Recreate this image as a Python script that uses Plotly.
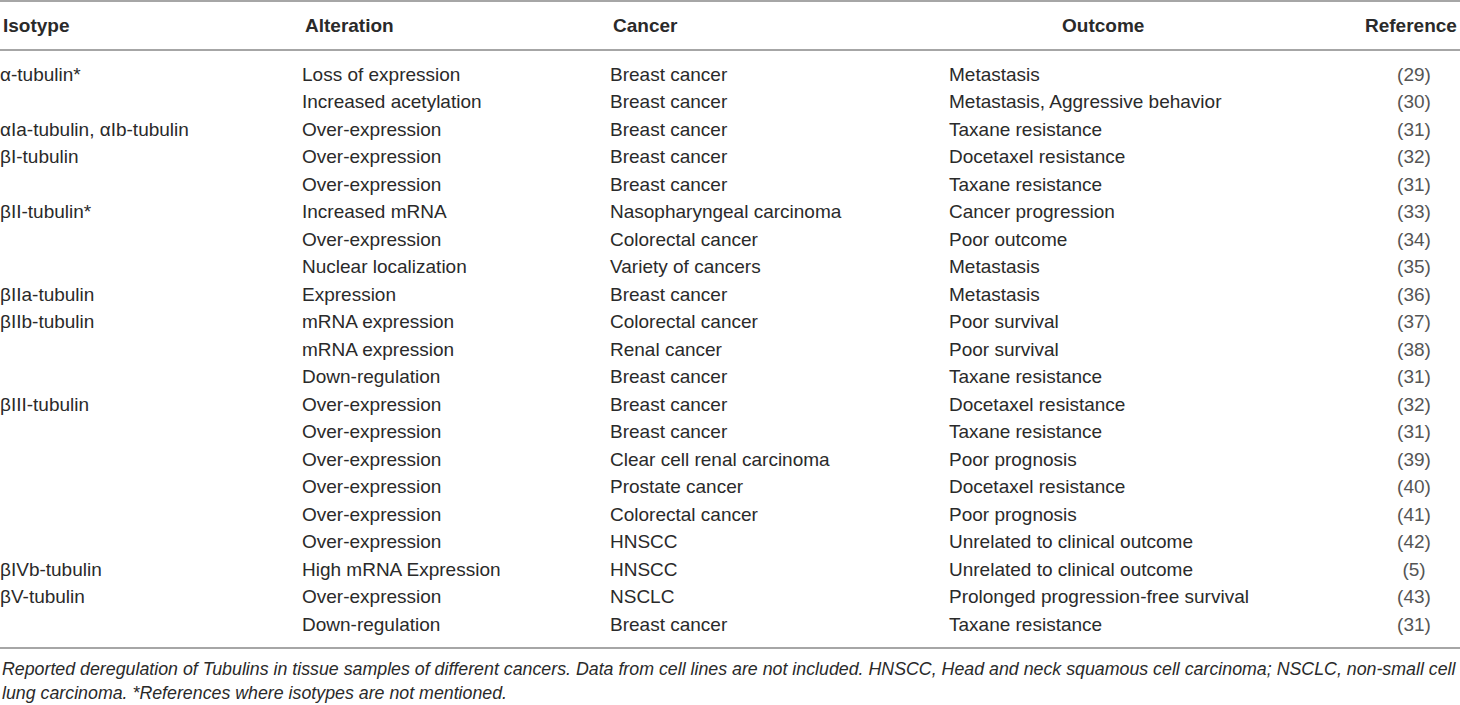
import plotly.graph_objects as go

# table contents, one list per column
headers = ["Isotype", "Alteration", "Cancer", "Outcome", "Reference"]

isotype = [
    "α-tubulin*", "", "αIa-tubulin, αIb-tubulin", "βI-tubulin", "",
    "βII-tubulin*", "", "", "βIIa-tubulin", "βIIb-tubulin", "", "",
    "βIII-tubulin", "", "", "", "", "", "βIVb-tubulin", "βV-tubulin", "",
]
alteration = [
    "Loss of expression", "Increased acetylation", "Over-expression",
    "Over-expression", "Over-expression", "Increased mRNA", "Over-expression",
    "Nuclear localization", "Expression", "mRNA expression", "mRNA expression",
    "Down-regulation", "Over-expression", "Over-expression", "Over-expression",
    "Over-expression", "Over-expression", "Over-expression",
    "High mRNA Expression", "Over-expression", "Down-regulation",
]
cancer = [
    "Breast cancer", "Breast cancer", "Breast cancer", "Breast cancer",
    "Breast cancer", "Nasopharyngeal carcinoma", "Colorectal cancer",
    "Variety of cancers", "Breast cancer", "Colorectal cancer", "Renal cancer",
    "Breast cancer", "Breast cancer", "Breast cancer",
    "Clear cell renal carcinoma", "Prostate cancer", "Colorectal cancer",
    "HNSCC", "HNSCC", "NSCLC", "Breast cancer",
]
outcome = [
    "Metastasis", "Metastasis, Aggressive behavior", "Taxane resistance",
    "Docetaxel resistance", "Taxane resistance", "Cancer progression",
    "Poor outcome", "Metastasis", "Metastasis", "Poor survival",
    "Poor survival", "Taxane resistance", "Docetaxel resistance",
    "Taxane resistance", "Poor prognosis", "Docetaxel resistance",
    "Poor prognosis", "Unrelated to clinical outcome",
    "Unrelated to clinical outcome", "Prolonged progression-free survival",
    "Taxane resistance",
]
reference = [
    "(29)", "(30)", "(31)", "(32)", "(31)", "(33)", "(34)", "(35)", "(36)",
    "(37)", "(38)", "(31)", "(32)", "(31)", "(39)", "(40)", "(41)", "(42)",
    "(5)", "(43)", "(31)",
]

footnote = [
    "Reported deregulation of Tubulins in tissue samples of different cancers. "
    "Data from cell lines are not included. HNSCC, Head and neck squamous cell "
    "carcinoma; NSCLC, non-small cell",
    "lung carcinoma. *References where isotypes are not mentioned.",
]

FONT = "Liberation Sans, Arial, sans-serif"
INK = "#2a2a2a"
REF_INK = "#555555"
RULE = "#a6a6a6"

rows = list(range(len(isotype)))

# column placement: (values, x, text position, header x, header anchor, colour)
columns = [
    (isotype, 0, "middle right", 1, "left", INK),
    (alteration, 302, "middle right", 303, "left", INK),
    (cancer, 610, "middle right", 611, "left", INK),
    (outcome, 949, "middle right", 1103, "center", INK),
    (reference, 1414, "middle center", 1459, "right", REF_INK),
]

fig = go.Figure()
for values, x, pos, _, _, col in columns:
    fig.add_trace(go.Scatter(
        x=[x] * len(values),
        y=rows,
        mode="text",
        text=values,
        textposition=pos,
        textfont=dict(family=FONT, size=19, color=col),
        hoverinfo="skip",
        showlegend=False,
    ))

# header labels
for name, (_, _, _, hx, anchor, _) in zip(headers, columns):
    fig.add_annotation(
        x=hx, y=-1.82, xref="x", yref="y", text=f"<b>{name}</b>",
        showarrow=False, xanchor=anchor, yanchor="middle",
        font=dict(family=FONT, size=19, color=INK),
    )

# horizontal rules: top, under header, bottom
for yy in [-2.73, -0.95, 20.8]:
    fig.add_shape(type="line", xref="paper", yref="y", x0=0, x1=1,
                  y0=yy, y1=yy, line=dict(color=RULE, width=2))

# footnote lines
for i, line in enumerate(footnote):
    fig.add_annotation(
        x=0, y=21.55 + i * 0.87, xref="x", yref="y", text=f"<i>{line}</i>",
        showarrow=False, xanchor="left", yanchor="middle",
        font=dict(family=FONT, size=17.8, color=INK),
    )

fig.update_xaxes(range=[0, 1460], visible=False, fixedrange=True)
fig.update_yaxes(range=[22.873, -2.764], visible=False, fixedrange=True)
fig.update_layout(
    width=1460, height=705,
    margin=dict(l=0, r=0, t=0, b=0),
    paper_bgcolor="white", plot_bgcolor="white",
)

fig.write_html(
    "out.html",
    config={"displayModeBar": False},
    post_script="document.body.style.margin='0';",
)
